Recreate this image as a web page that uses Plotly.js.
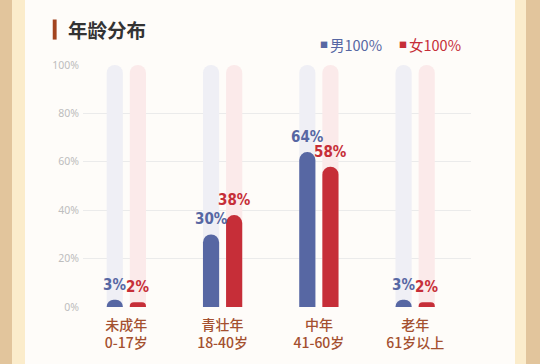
<!DOCTYPE html>
<html>
<head>
<meta charset="utf-8">
<script src="https://cdn.plot.ly/plotly-3.0.1.min.js"></script>
<style>
html,body{margin:0;padding:0;}
body{width:540px;height:364px;overflow:hidden;
background:linear-gradient(to right,#e2c59c 0,#e2c59c 12px,#fbeccb 12px,#fbeccb 25px,#fefcf9 25px,#fefcf9 515px,#fbeccb 515px,#fbeccb 526px,#e2c59c 526px);}
#chart{width:540px;height:364px;}
</style>
</head>
<body>
<div id="chart"></div>
<script>
const categories = ['未成年<br>0-17岁', '青壮年<br>18-40岁', '中年<br>41-60岁', '老年<br>61岁以上'];
const maleValues = [3, 30, 64, 3];
const femaleValues = [2, 38, 58, 2];
const fullValues = [100, 100, 100, 100];
const seriesNames = ['男100%', '女100%'];
const yTickVals = [0, 20, 40, 60, 80, 100];
const yTickText = ['0%', '20%', '40%', '60%', '80%', '100%'];

const BLUE = '#5767a3';
const RED = '#c62e38';
const xIdx = categories.map((c, i) => i);
const W = 0.168;
const OFF_M = -0.204, OFF_F = 0.036;
const labelFont = {family: '"DejaVu Sans Condensed", "Liberation Sans Narrow", sans-serif', size: 15, weight: 700};

function bar(vals, color, offset, name, xa) {
  return {
    type: 'bar', x: xIdx, y: vals, width: W, offset: offset, name: name, xaxis: xa, yaxis: 'y',
    marker: {color: color, cornerradius: 8, line: {width: 0}},
    cliponaxis: false, hoverinfo: 'skip', showlegend: false
  };
}

const data = [
  bar(fullValues, '#efeff5', OFF_M, 'bg1', 'x'),
  bar(fullValues, '#fbeaea', OFF_F, 'bg2', 'x'),
  bar(maleValues, BLUE, OFF_M, seriesNames[0], 'x2'),
  bar(femaleValues, RED, OFF_F, seriesNames[1], 'x2')
];

function valueLabels(vals, color, offset) {
  return vals.map((v, i) => ({
    xref: 'x', yref: 'y', x: i + offset + W / 2, y: v, xanchor: 'center', yanchor: 'bottom',
    yshift: 4, text: v + '%', showarrow: false, font: Object.assign({color: color}, labelFont)
  }));
}

const XRANGE = [-0.45, 3.58];

const layout = {
  width: 540, height: 364,
  margin: {l: 83, r: 69, t: 65, b: 57},
  paper_bgcolor: 'rgba(0,0,0,0)', plot_bgcolor: 'rgba(0,0,0,0)',
  barmode: 'overlay',
  showlegend: false,
  font: {family: '"Noto Sans CJK SC", "Noto Sans", sans-serif'},
  xaxis: {
    range: XRANGE, tickvals: xIdx, ticktext: categories,
    showgrid: false, zeroline: false, showline: false, ticks: '',
    tickfont: {size: 14, color: '#a4502f', weight: 500}, ticklabelstandoff: 8
  },
  xaxis2: {
    range: XRANGE, overlaying: 'x', visible: false, showgrid: false, zeroline: false
  },
  yaxis: {
    range: [0, 100], tickvals: yTickVals, ticktext: yTickText,
    showgrid: true, gridcolor: '#ebebeb', gridwidth: 1, zeroline: false, showline: false,
    ticks: '', tickfont: {size: 10.5, color: '#bdbdbd', family: '"Noto Sans", sans-serif'}, ticklabelstandoff: 3
  },
  shapes: [
    {type: 'rect', xref: 'paper', yref: 'paper', x0: -0.078, x1: -0.068, y0: 1.105, y1: 1.188,
     fillcolor: '#a3441f', line: {width: 0}}
  ],
  annotations: [
    {xref: 'paper', yref: 'paper', x: -0.045, y: 1.147, xanchor: 'left', yanchor: 'middle',
     text: '<b>年龄分布</b>', showarrow: false, font: {size: 19.5, color: '#333333'}},
    {xref: 'paper', yref: 'paper', x: 0.606, y: 1.086, xanchor: 'left', yanchor: 'middle',
     text: '■', showarrow: false, font: {size: 8, color: BLUE}},
    {xref: 'paper', yref: 'paper', x: 0.632, y: 1.086, xanchor: 'left', yanchor: 'middle',
     text: seriesNames[0], showarrow: false, font: {size: 14.5, color: BLUE}},
    {xref: 'paper', yref: 'paper', x: 0.810, y: 1.086, xanchor: 'left', yanchor: 'middle',
     text: '■', showarrow: false, font: {size: 8, color: RED}},
    {xref: 'paper', yref: 'paper', x: 0.835, y: 1.086, xanchor: 'left', yanchor: 'middle',
     text: seriesNames[1], showarrow: false, font: {size: 14.5, color: RED}}
  ].concat(valueLabels(maleValues, BLUE, OFF_M), valueLabels(femaleValues, RED, OFF_F))
};

Plotly.newPlot('chart', data, layout, {displayModeBar: false, staticPlot: true});
</script>
</body>
</html>
